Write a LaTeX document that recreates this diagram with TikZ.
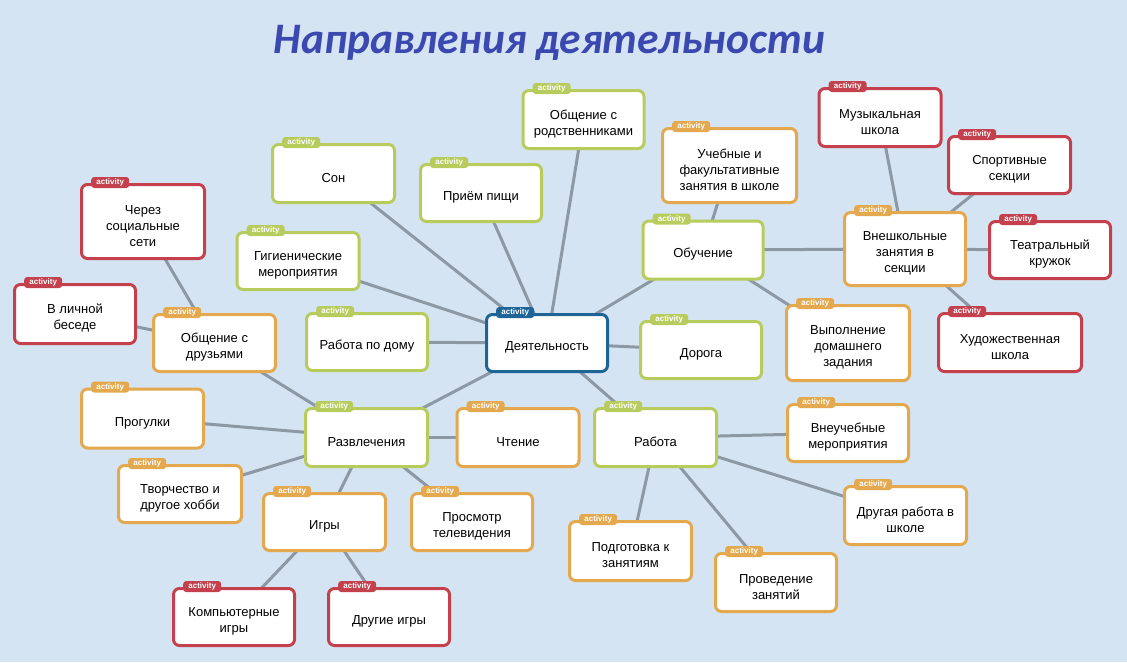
\documentclass[tikz,border=0pt]{standalone}
\usepackage{fontspec}
\setmainfont{Liberation Sans}
\newfontfamily\titlefont{Carlito}
\pgfdeclarelayer{bgl}
\pgfdeclarelayer{edgel}
\pgfsetlayers{bgl,edgel,main}
\definecolor{bgc}{RGB}{212,228,242}
\definecolor{cgreen}{RGB}{183,204,92}
\definecolor{corange}{RGB}{228,168,78}
\definecolor{cred}{RGB}{196,64,76}
\definecolor{cblue}{RGB}{30,100,150}
\definecolor{cedge}{RGB}{140,152,164}
\definecolor{ctitle}{RGB}{58,72,176}
\tikzset{
  box/.style={rectangle, rounded corners=6pt, line width=3pt, fill=white, text=black,
    align=center, font=\fontsize{13}{16}\selectfont, inner sep=2pt},
  tagbox/.style={rectangle, rounded corners=3pt, text=white,
    font=\bfseries\fontsize{8}{8}\selectfont, inner sep=0pt,
    minimum width=38pt, minimum height=11pt},
  link/.style={draw=cedge, line width=3pt}
}
% #1 name, #2 colour, #3 cx, #4 cy, #5 width, #6 height, #7 text
\newcommand\actbox[7]{%
  \node[box, draw=#2, minimum width={(#5-3)*1pt}, minimum height={(#6-3)*1pt}] (#1) at (#3,-#4) {\rule{0pt}{4pt}\\[-2pt]#7};
  \node[tagbox, fill=#2, anchor=west] (#1-tag) at ([xshift=11pt,yshift=0.5pt]#1.north west) {activity};
}
\begin{document}
\begin{tikzpicture}[x=1pt,y=1pt]
\useasboundingbox (0,0) rectangle (1127,-662);
\begin{pgfonlayer}{bgl}
  \fill[bgc] (0,0) rectangle (1127,-662);
\end{pgfonlayer}

\node[anchor=base, text=ctitle, font=\titlefont\bfseries\itshape\fontsize{43.5}{48}\selectfont] (title) at (549.5,-53) {Направления деятельности};

\actbox{deya}{cblue}{547}{343}{124}{60}{Деятельность}
\actbox{rod}{cgreen}{583.5}{119.5}{124}{61}{Общение с\\родственниками}
\actbox{son}{cgreen}{333.5}{173.5}{125}{61}{Сон}
\actbox{pri}{cgreen}{481}{193}{124}{60}{Приём пищи}
\actbox{gig}{cgreen}{298}{261}{125}{60}{Гигиенические\\мероприятия}
\actbox{rabdom}{cgreen}{367}{342}{124}{60}{Работа по дому}
\actbox{ucheb}{corange}{729.5}{165.5}{137}{77}{Учебные и\\факультативные\\занятия в школе}
\actbox{obuch}{cgreen}{703}{250}{123}{61}{Обучение}
\actbox{doroga}{cgreen}{701}{350}{124}{60}{Дорога}
\actbox{vnesh}{corange}{905}{249}{124}{76}{Внешкольные\\занятия в\\секции}
\actbox{muz}{cred}{880}{117.5}{125}{61}{Музыкальная\\школа}
\actbox{sport}{cred}{1009.5}{165}{125}{60}{Спортивные\\секции}
\actbox{teatr}{cred}{1050}{250}{124}{60}{Театральный\\кружок}
\actbox{hud}{cred}{1010}{342.5}{146}{61}{Художественная\\школа}
\actbox{vypol}{corange}{848}{343}{126}{78}{Выполнение\\домашнего\\задания}
\actbox{rabota}{cgreen}{655.5}{437.5}{125}{61}{Работа}
\actbox{vneuch}{corange}{848}{433}{124}{60}{Внеучебные\\мероприятия}
\actbox{drugaya}{corange}{905.5}{515.5}{125}{61}{Другая работа в\\школе}
\actbox{podg}{corange}{630.5}{551}{125}{62}{Подготовка к\\занятиям}
\actbox{proved}{corange}{776}{582.5}{124}{61}{Проведение\\занятий}
\actbox{chtenie}{corange}{518}{437.5}{125}{61}{Чтение}
\actbox{prosmotr}{corange}{472}{522}{124}{60}{Просмотр\\телевидения}
\actbox{razvl}{cgreen}{366.5}{437.5}{125}{61}{Развлечения}
\actbox{igry}{corange}{324.5}{522}{125}{60}{Игры}
\actbox{komp}{cred}{234}{617}{124}{60}{Компьютерные\\игры}
\actbox{drugie}{cred}{389}{617}{124}{60}{Другие игры}
\actbox{tvorch}{corange}{180}{494}{126}{60}{Творчество и\\другое хобби}
\actbox{progulki}{corange}{142.5}{418.5}{125}{62}{Прогулки}
\actbox{druzya}{corange}{214.5}{343}{125}{60}{Общение с\\друзьями}
\actbox{lichnoi}{cred}{75}{314}{124}{62}{В личной\\беседе}
\actbox{cherez}{cred}{143}{221.5}{126}{77}{Через\\социальные\\сети}

\begin{pgfonlayer}{edgel}
  \draw[link] (deya.center) -- (rod.center);
  \draw[link] (deya.center) -- (son.center);
  \draw[link] (deya.center) -- (pri.center);
  \draw[link] (deya.center) -- (gig.center);
  \draw[link] (deya.center) -- (rabdom.center);
  \draw[link] (deya.center) -- (obuch.center);
  \draw[link] (deya.center) -- (doroga.center);
  \draw[link] (deya.center) -- (rabota.center);
  \draw[link] (deya.center) -- (razvl.center);
  \draw[link] (obuch.center) -- (ucheb.center);
  \draw[link] (obuch.center) -- (vnesh.center);
  \draw[link] (obuch.center) -- (vypol.center);
  \draw[link] (vnesh.center) -- (muz.center);
  \draw[link] (vnesh.center) -- (sport.center);
  \draw[link] (vnesh.center) -- (teatr.center);
  \draw[link] (vnesh.center) -- (hud.center);
  \draw[link] (rabota.center) -- (vneuch.center);
  \draw[link] (rabota.center) -- (drugaya.center);
  \draw[link] (rabota.center) -- (podg.center);
  \draw[link] (rabota.center) -- (proved.center);
  \draw[link] (razvl.center) -- (chtenie.center);
  \draw[link] (razvl.center) -- (prosmotr.center);
  \draw[link] (razvl.center) -- (igry.center);
  \draw[link] (razvl.center) -- (tvorch.center);
  \draw[link] (razvl.center) -- (progulki.center);
  \draw[link] (razvl.center) -- (druzya.center);
  \draw[link] (igry.center) -- (komp.center);
  \draw[link] (igry.center) -- (drugie.center);
  \draw[link] (druzya.center) -- (cherez.center);
  \draw[link] (druzya.center) -- (lichnoi.center);
\end{pgfonlayer}
\end{tikzpicture}
\end{document}
